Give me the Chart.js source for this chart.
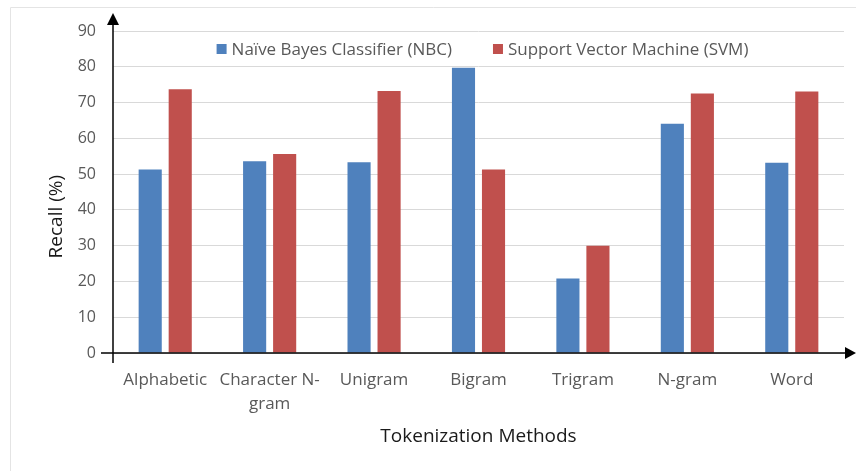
<!DOCTYPE html>
<html>
<head>
<meta charset="utf-8">
<script src="https://cdn.jsdelivr.net/npm/chart.js@4"></script>
<style>
  html, body { margin: 0; padding: 0; background: #fff; }
</style>
</head>
<body>
<canvas id="recallChart" width="856" height="471"></canvas>
<script>
const methods = ['Alphabetic', ['Character N-', 'gram'], 'Unigram', 'Bigram', 'Trigram', 'N-gram', 'Word'];
const nbcRecall = [51.3, 53.6, 53.3, 79.7, 20.8, 64.1, 53.2];
const svmRecall = [73.7, 55.6, 73.2, 51.3, 30.0, 72.5, 73.1];
const yTicks = { min: 0, max: 90, step: 10 };

const FONT = "'Open Sans', 'DejaVu Sans', sans-serif";

// axis arrows + the faint frame around the figure
const axisArrows = {
  id: 'axisArrows',
  afterDraw(chart) {
    const { ctx, chartArea, scales } = chart;
    const x0 = chartArea.left;
    const y0 = scales.y.getPixelForValue(0);
    const W = chart.width;
    ctx.save();
    // frame
    ctx.strokeStyle = '#e4e4e4';
    ctx.lineWidth = 1;
    ctx.beginPath();
    ctx.moveTo(10.5, chart.height);
    ctx.lineTo(10.5, 7.5);
    ctx.lineTo(W, 7.5);
    ctx.stroke();

    ctx.strokeStyle = '#000';
    ctx.fillStyle = '#000';
    ctx.lineWidth = 1.5;
    // x axis line
    ctx.beginPath();
    ctx.moveTo(x0 - 12, y0);
    ctx.lineTo(W - 8, y0);
    ctx.stroke();
    ctx.beginPath();
    ctx.moveTo(W, y0);
    ctx.lineTo(W - 11, y0 - 6);
    ctx.lineTo(W - 11, y0 + 6);
    ctx.closePath();
    ctx.fill();
    // y axis line
    const top = chartArea.top - 18;
    ctx.beginPath();
    ctx.moveTo(x0, y0 + 10);
    ctx.lineTo(x0, top + 8);
    ctx.stroke();
    ctx.beginPath();
    ctx.moveTo(x0, top);
    ctx.lineTo(x0 - 6, top + 12);
    ctx.lineTo(x0 + 6, top + 12);
    ctx.closePath();
    ctx.fill();
    ctx.restore();
  }
};

// legend drawn inside the plot, one row, just under the 90 gridline
const insideLegend = {
  id: 'insideLegend',
  afterDatasetsDraw(chart) {
    const { ctx, chartArea } = chart;
    const sets = chart.data.datasets;
    const box = 10, gapText = 5, gapItem = 41;
    ctx.save();
    ctx.font = '17px ' + FONT;
    ctx.textBaseline = 'middle';
    const widths = sets.map(d => box + gapText + ctx.measureText(d.label).width);
    const total = widths.reduce((a, b) => a + b, 0) + gapItem * (sets.length - 1);
    let x = (chartArea.left + chartArea.right) / 2 - total / 2 + 4;
    const y = chartArea.top + 18;
    sets.forEach((d, i) => {
      ctx.fillStyle = d.backgroundColor;
      ctx.fillRect(x, y - box / 2, box, box);
      ctx.fillStyle = '#595959';
      ctx.fillText(d.label, x + box + gapText, y + 1);
      x += widths[i] + gapItem;
    });
    ctx.restore();
  }
};

new Chart(document.getElementById('recallChart').getContext('2d'), {
  type: 'bar',
  data: {
    labels: methods,
    datasets: [
      {
        label: 'Naïve Bayes Classifier (NBC)',
        data: nbcRecall,
        backgroundColor: '#4f81bd',
        borderWidth: 0,
        barPercentage: 0.77,
        categoryPercentage: 0.575,
      },
      {
        label: 'Support Vector Machine (SVM)',
        data: svmRecall,
        backgroundColor: '#c0504d',
        borderWidth: 0,
        barPercentage: 0.77,
        categoryPercentage: 0.575,
      },
    ],
  },
  options: {
    responsive: false,
    animation: false,
    devicePixelRatio: 1,
    layout: { padding: { top: 31, right: 12, left: 0, bottom: 23 } },
    scales: {
      x: {
        grid: { display: false, drawTicks: false },
        border: { display: false },
        ticks: {
          color: '#595959',
          font: { family: FONT, size: 17, lineHeight: 1.42 },
          padding: 15,
          maxRotation: 0,
          autoSkip: false,
        },
        title: {
          display: true,
          text: 'Tokenization Methods',
          color: '#1a1a1a',
          font: { family: FONT, size: 19 },
          padding: 0,
        },
        afterFit(scale) { scale.height = 95; },
      },
      y: {
        min: yTicks.min,
        max: yTicks.max,
        grid: { color: '#d9d9d9', lineWidth: 1, drawTicks: false },
        border: { display: false },
        ticks: {
          stepSize: yTicks.step,
          color: '#595959',
          font: { family: FONT, size: 16 },
          padding: 17,
        },
        title: {
          display: true,
          text: 'Recall (%)' + '          ',
          color: '#1a1a1a',
          font: { family: FONT, size: 19 },
          padding: { top: 45, bottom: 0 },
        },
        afterFit(scale) { scale.width = 113; },
      },
    },
    plugins: {
      legend: { display: false },
      tooltip: { enabled: false },
    },
  },
  plugins: [axisArrows, insideLegend],
});
</script>
</body>
</html>
